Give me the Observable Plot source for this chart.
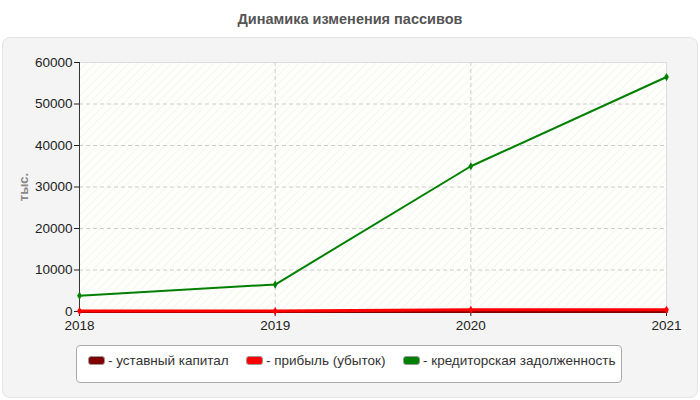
<!DOCTYPE html>
<html>
<head>
<meta charset="utf-8">
<script src="https://cdn.jsdelivr.net/npm/d3@7"></script>
<script src="https://cdn.jsdelivr.net/npm/@observablehq/plot@0.6"></script>
<style>
  body { margin: 0; width: 700px; height: 400px; background: #fff; font-family: "Liberation Sans", Arial, sans-serif; position: relative; overflow: hidden; }
  #title { position: absolute; left: 0; top: 11px; width: 700px; text-align: center; font-weight: bold; font-size: 14.5px; color: #555; }
  #panel { position: absolute; left: 2px; top: 37px; width: 694px; height: 359px; background: #f4f4f4; border: 1px solid #e4e4e4; border-radius: 8px; }
  #chart { position: absolute; left: 0; top: 38px; }
  #legend { position: absolute; left: 76px; top: 345px; width: 546px; height: 38px; background: #fff; border: 1px solid #aaa; border-radius: 4px; box-sizing: border-box; }
  .item { position: absolute; top: 7px; font-size: 13.5px; color: #333; display: flex; align-items: center; white-space: nowrap; }
  .sw { width: 15px; height: 7px; border: 1px solid #999; border-radius: 3px; margin-right: 3px; }
  g[aria-label="y-axis label"] text { font-weight: bold; fill: #888; font-size: 13px; }
</style>
</head>
<body>
<div id="title">Динамика изменения пассивов</div>
<div id="panel"></div>
<div id="chart"></div>
<div id="legend"></div>
<script>
const years = [2018, 2019, 2020, 2021];
const ustavnyKapital = [10, 10, 10, 10];
const pribyl = [100, 100, 400, 400];
const kreditorskaya = [3800, 6500, 35000, 56500];
const yTicks = [0, 10000, 20000, 30000, 40000, 50000, 60000];
const seriesNames = ["уставный капитал", "прибыль (убыток)", "кредиторская задолженность"];
const seriesColors = ["#800000", "#ff0000", "#008000"];

const rows = (vals, s) => years.map((y, i) => ({year: y, value: vals[i], series: s}));
const uk = rows(ustavnyKapital, seriesNames[0]);
const pr = rows(pribyl, seriesNames[1]);
const kr = rows(kreditorskaya, seriesNames[2]);

const chart = Plot.plot({
  width: 700,
  height: 302,
  marginTop: 24,
  marginLeft: 79,
  marginRight: 34,
  marginBottom: 29,
  style: {fontFamily: "'Liberation Sans', Arial, sans-serif", fontSize: "13.5px", color: "#222", background: "transparent", overflow: "visible"},
  x: {domain: [2018, 2021], ticks: years, tickFormat: d3.format("d")},
  y: {domain: [0, 60000], ticks: yTicks, tickFormat: d3.format("d")},
  marks: [
    Plot.frame({fill: "url(#hatch)", stroke: "#ddd"}),
    Plot.gridY(yTicks.slice(1, -1), {stroke: "#ccc", strokeOpacity: 1, strokeDasharray: "4,3"}),
    Plot.gridX(years.slice(1, -1), {stroke: "#ccc", strokeOpacity: 1, strokeDasharray: "4,3"}),
    Plot.axisY({ticks: yTicks, tickSize: 5, tickPadding: 2, tickFormat: d3.format("d"), label: "тыс.", labelAnchor: "center", labelArrow: "none", labelOffset: 61, fill: "#222"}),
    Plot.axisX({ticks: years, tickSize: 5, tickPadding: 4, label: null, tickFormat: d3.format("d"), fill: "#222"}),
    Plot.ruleY([0], {stroke: "#333"}),
    Plot.ruleX([2018], {stroke: "#333"}),
    Plot.line(uk, {x: "year", y: "value", stroke: seriesColors[0], strokeWidth: 3}),
    Plot.line(pr, {x: "year", y: "value", stroke: seriesColors[1], strokeWidth: 3}),
    Plot.dot(pr, {x: "year", y: "value", fill: seriesColors[1], r: 2.5, symbol: "diamond"}),
    Plot.line(kr, {x: "year", y: "value", stroke: seriesColors[2], strokeWidth: 2}),
    Plot.dot(kr, {x: "year", y: "value", fill: seriesColors[2], r: 2.5, symbol: "diamond"})
  ]
});

const ns = "http://www.w3.org/2000/svg";
const defs = document.createElementNS(ns, "defs");
defs.innerHTML = `<pattern id="hatch" patternUnits="userSpaceOnUse" width="6" height="6" patternTransform="rotate(45)">
  <rect width="6" height="6" fill="#fefefc"/>
  <line x1="0" y1="0" x2="0" y2="6" stroke="#f4f4ea" stroke-width="1.5"/>
</pattern>`;
chart.insertBefore(defs, chart.firstChild);
document.getElementById("chart").appendChild(chart);

const legend = document.getElementById("legend");
const lefts = [11, 169, 326];
seriesNames.forEach((n, i) => {
  const it = document.createElement("div");
  it.className = "item";
  it.style.left = lefts[i] + "px";
  it.innerHTML = `<span class="sw" style="background:${seriesColors[i]}"></span><span>- ${n}</span>`;
  legend.appendChild(it);
});
</script>
</body>
</html>
